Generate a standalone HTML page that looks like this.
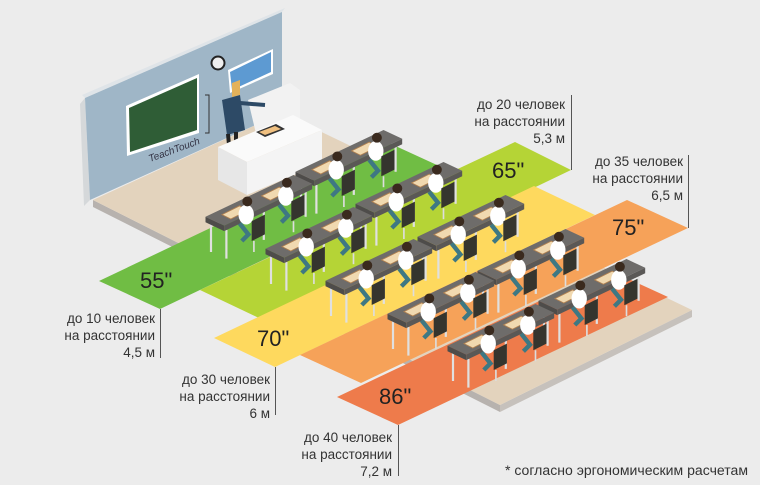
<!DOCTYPE html>
<html><head><meta charset="utf-8"><style>
html,body{margin:0;padding:0;background:#ececec;}
svg{display:block;}
text{font-family:"Liberation Sans",sans-serif;fill:#333;}
.lb{font-size:13.5px;text-anchor:end;}
.sz{font-size:22px;fill:#222;}
</style></head><body>
<svg width="760" height="485" viewBox="0 0 760 485" xmlns="http://www.w3.org/2000/svg">
<defs>
<g id="desk" transform="scale(1.1)">
  <line x1="-40" y1="14" x2="-40" y2="40" stroke="#e0e0e0" stroke-width="2"/>
  <line x1="-26" y1="20" x2="-26" y2="46" stroke="#e0e0e0" stroke-width="2"/>
  <line x1="46" y1="-18" x2="46" y2="8" stroke="#e0e0e0" stroke-width="2"/>
  <line x1="8" y1="3" x2="8" y2="29" stroke="#e0e0e0" stroke-width="2"/>
  <polygon points="-45,8 35,-30 52,-22 -28,16" fill="#6e6c6a"/>
  <polygon points="-45,8 -28,16 -28,21 -45,13" fill="#4e4c4a"/>
  <polygon points="-28,16 52,-22 52,-17 -28,21" fill="#5a5856"/>
  <polygon points="-30,6 -14,-2 -6,2 -22,10" fill="#f1d9b0" stroke="#b08050" stroke-width="0.8"/>
  <polygon points="6,-11 22,-19 30,-15 14,-7" fill="#f1d9b0" stroke="#b08050" stroke-width="0.8"/>
  <path d="M-14,14 l8,10 l-6,6" stroke="#3e7883" stroke-width="4" fill="none"/>
  <path d="M22,-3 l8,10 l-6,6" stroke="#3e7883" stroke-width="4" fill="none"/>
  <ellipse cx="-8" cy="6" rx="7" ry="9" fill="#fff"/>
  <circle cx="-7" cy="-6" r="4.5" fill="#3a2a1e"/>
  <ellipse cx="28" cy="-11" rx="7" ry="9" fill="#fff"/>
  <circle cx="29" cy="-23" r="4.5" fill="#3a2a1e"/>
  <polygon points="-3,12 9,6 9,24 -3,30" fill="#35352e"/>
  <polygon points="33,-6 45,-12 45,6 33,12" fill="#35352e"/>
  <line x1="-1" y1="30" x2="-1" y2="40" stroke="#ddd" stroke-width="1.5"/>
  <line x1="35" y1="12" x2="35" y2="22" stroke="#ddd" stroke-width="1.5"/>
</g>
</defs>

<polygon points="93,200 500,405 500,412 93,207" fill="#b7b2ae"/>
<polygon points="500,405 692,310 692,317 500,412" fill="#c6c1bc"/>
<polygon points="93,200 282,113 692,310 500,405" fill="#e3d3bd"/>
<polygon points="80,104 85,98 90,200 84,206" fill="#d5d8da"/>
<polygon points="85,98 282,12 285,8 82,95" fill="#dfe4e8"/>
<polygon points="85,98 282,12 282,113 90,200" fill="#9fb6c7"/>
<polygon points="126,106 199,74 199,133 127,156" fill="#fff"/>
<polygon points="129,108 197,78 197,130 130,152" fill="#2f5d36"/>
<text x="0" y="0" transform="translate(150,162) rotate(-20)" style="font-size:10px;font-style:italic;fill:#334;">TeachTouch</text>
<path d="M205,95 h4 v38 h-4" stroke="#333" fill="none"/>
<circle cx="218" cy="63" r="7.5" fill="#222"/><circle cx="218" cy="63" r="5.5" fill="#eee"/>
<polygon points="228,70 273,49 273,74 230,93" fill="#fff"/>
<polygon points="230,72 271,52 271,72 232,90" fill="#5d9ad2"/>
<polygon points="248,100 290,83 300,90 300,125 258,142" fill="#f2f2f2"/>
<polygon points="232,83 240,80 240,95 232,97" fill="#e4b25a"/>
<polygon points="222,100 240,95 245,130 227,135" fill="#2d4a66"/>
<line x1="240" y1="103" x2="265" y2="105" stroke="#2d4a66" stroke-width="4"/>
<line x1="228" y1="134" x2="229" y2="145" stroke="#222" stroke-width="4"/>
<line x1="236" y1="132" x2="236" y2="143" stroke="#222" stroke-width="4"/>
<polygon points="218,147 247,162 247,195 218,180" fill="#e7e7e7"/>
<polygon points="247,162 322,130 322,163 247,195" fill="#f4f4f4"/>
<polygon points="218,147 293,115 322,130 247,162" fill="#fafafa"/>
<polygon points="256,132 276,124 285,129 265,137" fill="#333"/>
<polygon points="259,132 275,126 281,129 265,135" fill="#f0c080"/>

<polygon points="99,281 389,143 450,171 160,309" fill="#70bd44"/>
<polygon points="200,290 515,142 571,170 261,319" fill="#b5d436"/>
<polygon points="214,338 534,186 595,215 275,367" fill="#fed95e"/>
<polygon points="300,355 627,200 688,228 361,383" fill="#f6a259"/>
<polygon points="337,397 607,269 668,297 398,425" fill="#ee7b4b"/>

<use href="#desk" x="345" y="163"/>
<use href="#desk" x="255" y="208"/>
<use href="#desk" x="405" y="195"/>
<use href="#desk" x="315" y="240"/>
<use href="#desk" x="467" y="228"/>
<use href="#desk" x="375" y="272"/>
<use href="#desk" x="527" y="262"/>
<use href="#desk" x="437" y="305"/>
<use href="#desk" x="588" y="292"/>
<use href="#desk" x="497" y="337"/>

<text class="sz" x="140" y="288">55"</text>
<text class="sz" x="492" y="178">65"</text>
<text class="sz" x="257" y="346">70"</text>
<text class="sz" x="612" y="235">75"</text>
<text class="sz" x="379" y="404">86"</text>

<g stroke="#555" stroke-width="1">
<line x1="160.5" y1="309" x2="160.5" y2="358"/>
<line x1="571.5" y1="95" x2="571.5" y2="170"/>
<line x1="275.5" y1="367" x2="275.5" y2="415"/>
<line x1="688.5" y1="155" x2="688.5" y2="228"/>
<line x1="398.5" y1="425" x2="398.5" y2="476"/>
</g>

<text class="lb" x="565" y="109">до 20 человек</text>
<text class="lb" x="565" y="126">на расстоянии</text>
<text class="lb" x="565" y="143">5,3 м</text>
<text class="lb" x="683" y="166">до 35 человек</text>
<text class="lb" x="683" y="183">на расстоянии</text>
<text class="lb" x="683" y="200">6,5 м</text>
<text class="lb" x="155" y="323">до 10 человек</text>
<text class="lb" x="155" y="340">на расстоянии</text>
<text class="lb" x="155" y="357">4,5 м</text>
<text class="lb" x="270" y="384">до 30 человек</text>
<text class="lb" x="270" y="401">на расстоянии</text>
<text class="lb" x="270" y="418">6 м</text>
<text class="lb" x="392" y="442">до 40 человек</text>
<text class="lb" x="392" y="459">на расстоянии</text>
<text class="lb" x="392" y="476">7,2 м</text>

<text x="505" y="475" textLength="243" lengthAdjust="spacingAndGlyphs" style="font-size:13.5px;">* согласно эргономическим расчетам</text>
</svg>
</body></html>
